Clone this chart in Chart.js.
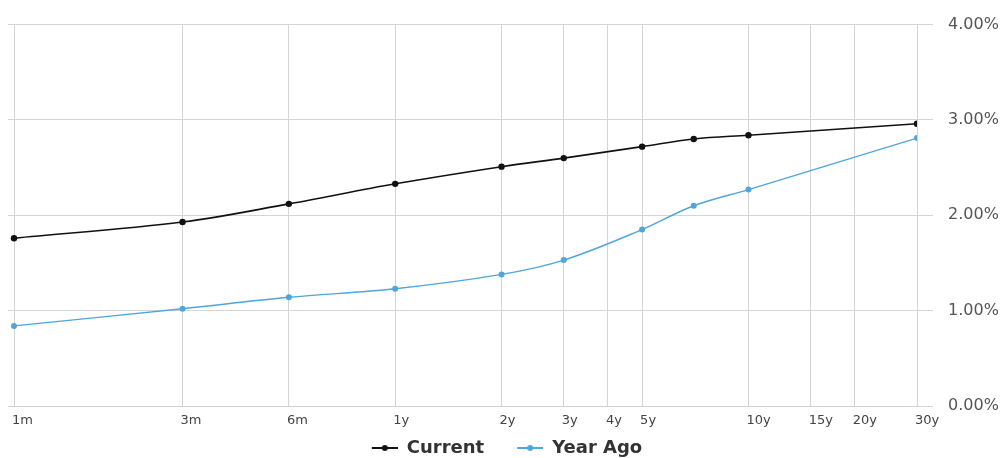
<!DOCTYPE html>
<html>
<head>
<meta charset="utf-8">
<script src="https://cdn.jsdelivr.net/npm/chart.js@4.4.1/dist/chart.umd.min.js"></script>
<style>
  html, body { margin: 0; padding: 0; background: #fff; }
  #wrap { width: 1006px; height: 458px; position: relative; }
</style>
</head>
<body>
<div id="wrap"><canvas id="curve"></canvas></div>
<script>
// Maturities in months, plotted on a logarithmic axis
const maturityMonths = [1, 3, 6, 12, 24, 36, 60, 84, 120, 360];
// Yields (%)
const currentYields = [1.76, 1.93, 2.12, 2.33, 2.51, 2.60, 2.72, 2.80, 2.84, 2.96];
const yearAgoYields = [0.84, 1.02, 1.14, 1.23, 1.38, 1.53, 1.85, 2.10, 2.27, 2.81];
// Axis ticks
const tickMonths = [1, 3, 6, 12, 24, 36, 48, 60, 120, 180, 240, 360];
const tickLabels = ['1m', '3m', '6m', '1y', '2y', '3y', '4y', '5y', '10y', '15y', '20y', '30y'];
const yTicks = [0, 1, 2, 3, 4];

const seriesNames = ['Current', 'Year Ago'];
const seriesColors = ['#111111', '#4ea6dc'];

// Legend symbol: short line with a dot, right-aligned in a wider box
const SYMBOL_LINE = 26;
const SYMBOL_GAP = 33;
const SYMBOL_BOX = SYMBOL_LINE + SYMBOL_GAP;
function legendSymbol(color) {
  const c = document.createElement('canvas');
  c.width = SYMBOL_BOX; c.height = 10;
  const g = c.getContext('2d');
  const x0 = SYMBOL_GAP;
  g.strokeStyle = color; g.lineWidth = 2;
  g.beginPath(); g.moveTo(x0, 5); g.lineTo(x0 + SYMBOL_LINE, 5); g.stroke();
  g.fillStyle = color;
  g.beginPath(); g.arc(x0 + SYMBOL_LINE / 2, 5, 3, 0, Math.PI * 2); g.fill();
  return c;
}

function toPoints(values) {
  return maturityMonths.map((m, i) => ({ x: m, y: values[i] }));
}

const datasets = [currentYields, yearAgoYields].map((vals, i) => ({
  label: seriesNames[i],
  data: toPoints(vals),
  borderColor: seriesColors[i],
  backgroundColor: seriesColors[i],
  borderWidth: i === 0 ? 1.6 : 1.4,
  pointRadius: i === 0 ? 3.2 : 3,
  pointBorderWidth: 0,
  pointStyle: 'circle',
  tension: 0.35,
  fill: false
}));
const legendSymbols = seriesColors.map(legendSymbol);

// Nudge the legend to its final spot once the layout is known
const legendOffset = {
  id: 'legendOffset',
  afterLayout(chart) {
    const lg = chart.legend;
    const dx = -SYMBOL_GAP / 2, dy = 9;
    lg.left += dx; lg.right += dx;
    lg.top += dy; lg.bottom += dy;
  }
};

new Chart(document.getElementById('curve'), {
  type: 'line',
  data: { datasets },
  plugins: [legendOffset],
  options: {
    responsive: true,
    maintainAspectRatio: false,
    animation: false,
    layout: { padding: { left: 8, right: 0, top: 0, bottom: 0 } },
    scales: {
      x: {
        type: 'logarithmic',
        min: Math.exp(-6 / 153.4),
        max: 360,
        afterBuildTicks: (axis) => { axis.ticks = tickMonths.map(v => ({ value: v })); },
        afterFit: (axis) => { axis.height = 24; },
        ticks: {
          autoSkip: false,
          maxRotation: 0,
          align: 'start',
          labelOffset: -2,
          padding: 7,
          color: '#444',
          font: { family: 'DejaVu Sans', size: 13 },
          callback: (value) => tickLabels[tickMonths.indexOf(value)]
        },
        grid: { color: '#d4d4d4', lineWidth: 1, drawTicks: false },
        border: { display: true, color: '#c6d4e2', width: 1 }
      },
      y: {
        position: 'right',
        min: 0,
        max: 4,
        afterBuildTicks: (axis) => { axis.ticks = yTicks.map(v => ({ value: v })); },
        afterFit: (axis) => { axis.width = 89; },
        ticks: {
          color: '#555',
          padding: 15,
          font: { family: 'DejaVu Sans', size: 16 },
          callback: (v) => v.toFixed(2) + '%'
        },
        grid: { color: '#d4d4d4', lineWidth: 1, drawTicks: true, tickLength: 16, tickColor: '#d4d4d4' },
        border: { display: false }
      }
    },
    plugins: {
      legend: {
        position: 'bottom',
        labels: {
          usePointStyle: true,
          pointStyleWidth: SYMBOL_BOX,
          padding: 0,
          color: '#333',
          font: { family: 'DejaVu Sans', size: 18, weight: 'bold' },
          generateLabels: (chart) => chart.data.datasets.map((d, i) => ({
            text: d.label,
            fillStyle: d.borderColor,
            strokeStyle: d.borderColor,
            fontColor: '#333',
            pointStyle: legendSymbols[i],
            lineWidth: 0,
            datasetIndex: i
          }))
        }
      },
      tooltip: { enabled: false }
    }
  }
});
</script>
</body>
</html>
